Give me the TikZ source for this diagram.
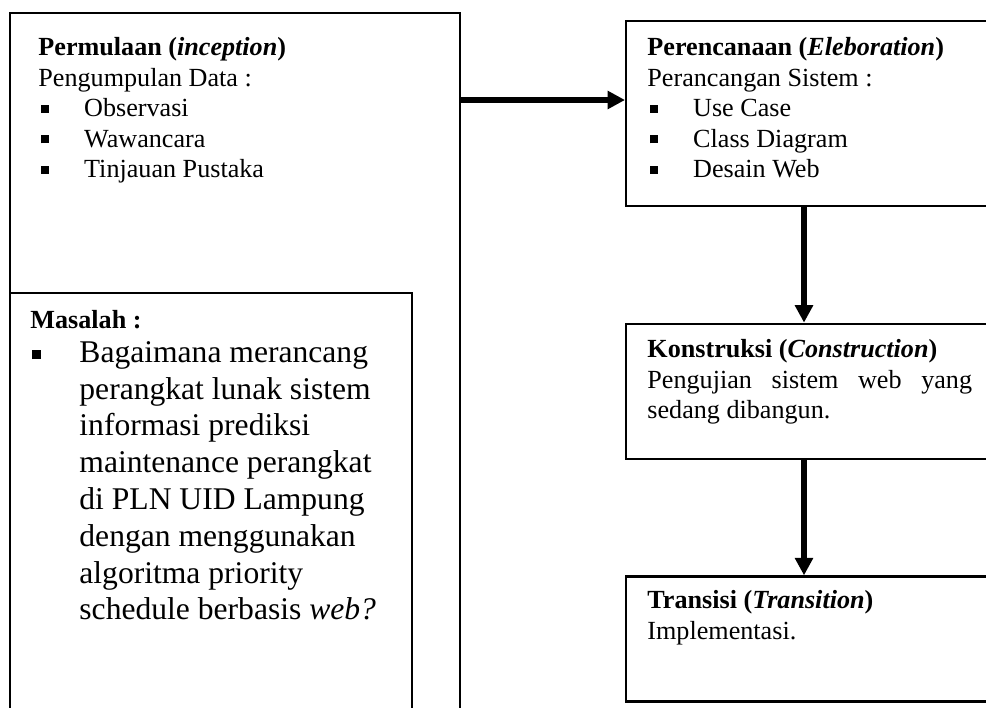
\documentclass[tikz,border=0pt]{standalone}
\usepackage{fontspec}
\setmainfont{Liberation Serif}
\usetikzlibrary{arrows.meta,positioning}

\newcommand{\sqbul}{\makebox[21pt][l]{\hspace{1pt}\raisebox{1.8pt}{\rule{3.8pt}{3.8pt}}}}
\newcommand{\bigbul}{\llap{\makebox[21.6pt][l]{\raisebox{1.4pt}{\rule{4pt}{4pt}}}}}

\begin{document}
\begin{tikzpicture}[
    x=0.459pt, y=-0.459pt,
    node distance=53pt,
    box/.style={draw, line width=1pt, inner sep=0pt, anchor=north west},
    txt/.style={inner sep=0pt, anchor=north west, align=left, font=\fontsize{12}{14}\selectfont},
    bigtxt/.style={inner sep=0pt, anchor=north west, align=left, font=\fontsize{14.5}{16.9}\selectfont},
    arrow/.style={-{Triangle[length=8pt,width=8pt]}, line width=2.6pt}
]
\useasboundingbox (0,0) rectangle (986,707);
\clip (0,0) rectangle (986,707);

% left column
\node[box, minimum width=206.6pt, minimum height=343.3pt] (start) at (9,12) {};
\node[box, minimum width=184.5pt, minimum height=214.8pt] (masalah) at (9,292) {};

% right column
\node[box, minimum width=176.7pt, minimum height=84.9pt] (elab) at (625,20) {};
\node[box, minimum width=176.7pt, minimum height=62pt, below=of elab] (konstr) {};
\node[box, minimum width=176.7pt, minimum height=57.4pt, below=of konstr] (trans) {};

% texts
\node[txt] (starttxt) at (38,34) {\strut\textbf{Permulaan (\textit{inception})}\\
    Pengumpulan Data :\\
    \sqbul Observasi\\
    \sqbul Wawancara\\
    \sqbul Tinjauan Pustaka};
\node[txt] (masalahhead) at (30,307) {\strut\textbf{Masalah :}};
\node[bigtxt] (masalahtxt) at (79,336) {\strut\bigbul Bagaimana merancang\\
    perangkat lunak sistem\\
    informasi prediksi\\
    maintenance perangkat\\
    di PLN UID Lampung\\
    dengan menggunakan\\
    algoritma priority\\
    schedule berbasis \textit{web?}};
\node[txt] (elabtxt) at (647,34) {\strut\textbf{Perencanaan (\textit{Eleboration})}\\
    Perancangan Sistem :\\
    \sqbul Use Case\\
    \sqbul Class Diagram\\
    \sqbul Desain Web};
\node[txt] (konstrtxt) at (647,336) {\strut\textbf{Konstruksi (\textit{Construction})}\\
    \makebox[149pt][s]{Pengujian sistem web yang}\\
    sedang dibangun.};
\node[txt] (transtxt) at (647,587) {\strut\textbf{Transisi (\textit{Transition})}\\
    Implementasi.};

% connectors
\coordinate (ay) at (0,100);
\coordinate (ax) at (804,0);
\draw[arrow] (start.east |- ay) -- (elab.west |- ay);
\draw[arrow] (elab.south -| ax) -- (konstr.north -| ax);
\draw[arrow] (konstr.south -| ax) -- (trans.north -| ax);
\end{tikzpicture}
\end{document}
